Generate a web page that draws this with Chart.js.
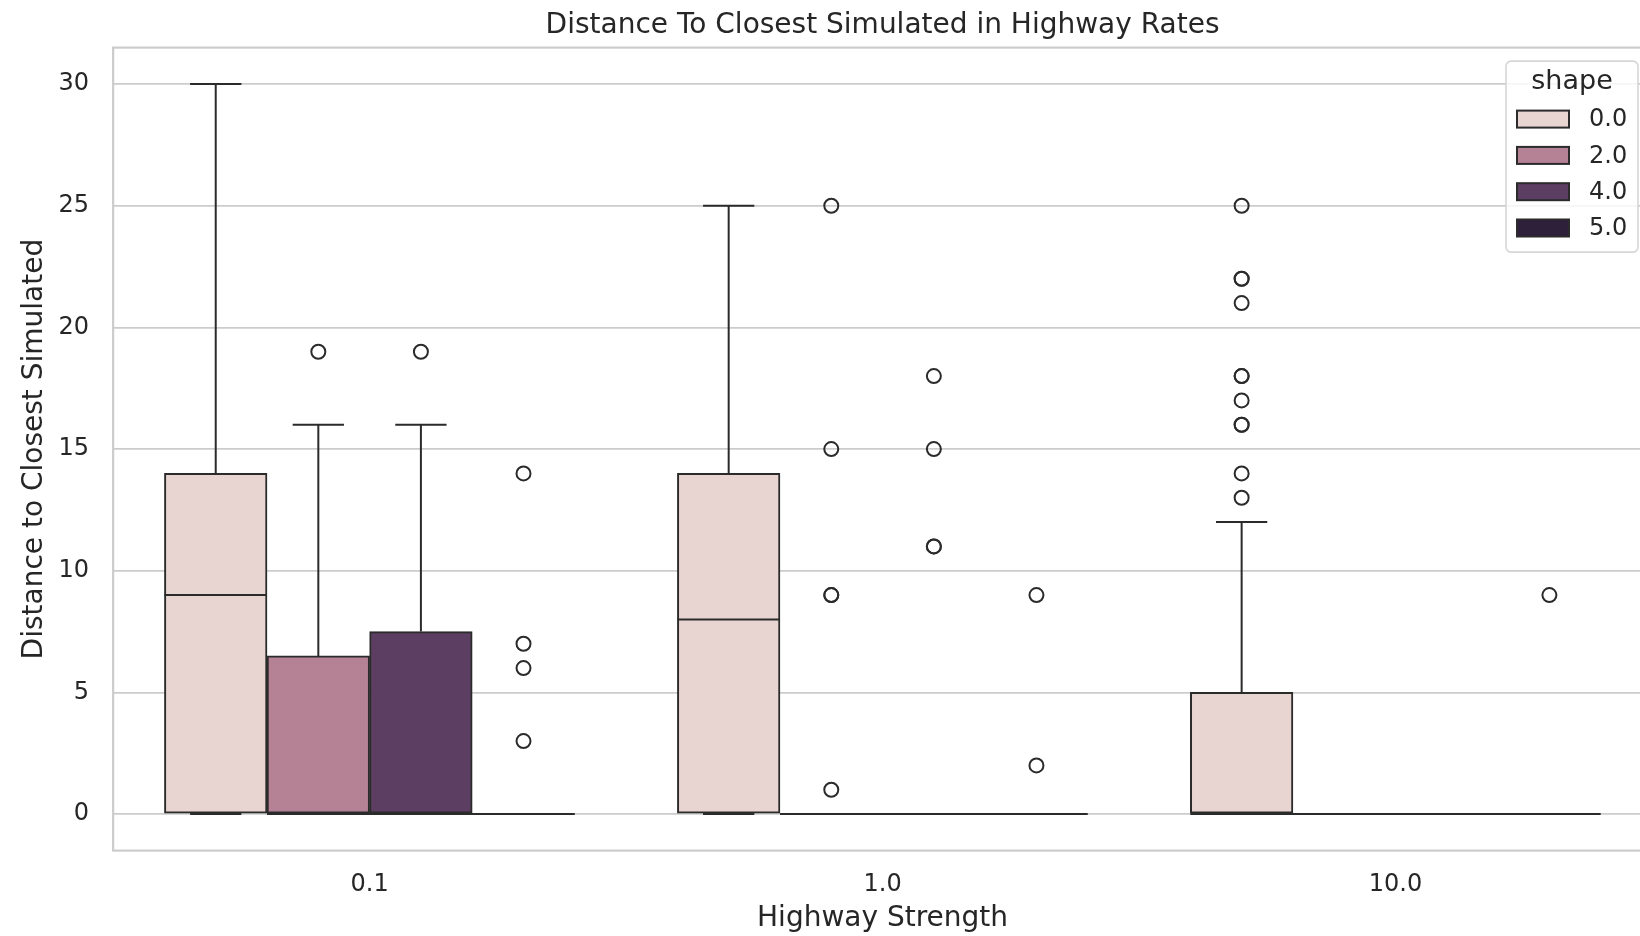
<!DOCTYPE html>
<html>
<head>
<meta charset="utf-8">
<script src="https://cdn.jsdelivr.net/npm/chart.js@4.4.1/dist/chart.umd.min.js"></script>
<style>
  html, body { margin: 0; padding: 0; background: #fff; overflow: hidden; }
  #wrap { width: 1640px; height: 936px; overflow: hidden; }
  canvas { display: block; }
</style>
</head>
<body>
<div id="wrap"><canvas id="chart" width="1664" height="936"></canvas></div>
<script>
// ================= DATA =================
const categories = ['0.1', '1.0', '10.0'];
const shapes = ['0.0', '2.0', '4.0', '5.0'];
const shapeColors = ['#e8d4d0', '#b48195', '#5d3e63', '#2e1f3a'];
const yTicks = [0, 5, 10, 15, 20, 25, 30];

// box stats: one row per shape, one column per highway strength
const q1 = [
    [0, 0, 0],
    [0, 0, 0],
    [0, 0, 0],
    [0, 0, 0]
];
const q3 = [
    [14, 14, 5],
    [6.5, 0, 0],
    [7.5, 0, 0],
    [0, 0, 0]
];
const medians = [
    [9, 8, 0],
    [0, 0, 0],
    [0, 0, 0],
    [0, 0, 0]
];
const whiskerLow = [
    [0, 0, 0],
    [0, 0, 0],
    [0, 0, 0],
    [0, 0, 0]
];
const whiskerHigh = [
    [30, 25, 12],
    [16, 0, 0],
    [16, 0, 0],
    [0, 0, 0]
];
const fliers = [
    [[], [], [25, 22, 22, 21, 18, 18, 17, 16, 16, 14, 13]],
    [[19], [25, 15, 9, 9, 1], []],
    [[19], [18, 15, 11, 11], []],
    [[14, 7, 6, 3], [9, 2], [9]]
];

// ================= STYLE =================
const textColor = '#262626';
const lineColor = '#2b2b2b';
const gridColor = '#cccccc';
const fontFamily = 'DejaVu Sans';
Chart.defaults.font.family = fontFamily;
Chart.defaults.color = textColor;

const groupWidth = 0.8;
const boxWidth = groupWidth / shapes.length;
const hueOffset = h => -groupWidth / 2 + boxWidth * (h + 0.5);

// ================= DATASETS =================
const boxDatasets = shapes.map((s, h) => ({
    type: 'bar',
    label: s,
    data: categories.map((c, i) => ({ x: i + hueOffset(h), y: [q1[h][i], q3[h][i]] })),
    backgroundColor: shapeColors[h],
    borderColor: lineColor,
    borderWidth: 2,
    borderSkipped: false,
    grouped: false,
    barPercentage: 1,
    categoryPercentage: 1,
    order: 3
}));

// whiskers, caps and medians as one line dataset broken by gaps
const linePoints = [];
function addSegment(x0, y0, x1, y1) {
    linePoints.push({ x: x0, y: y0 }, { x: x1, y: y1 }, { x: x1, y: null });
}
shapes.forEach((s, h) => {
    categories.forEach((c, i) => {
        const x = i + hueOffset(h);
        const half = boxWidth / 2;
        const capHalf = boxWidth / 4;
        if (whiskerHigh[h][i] > q3[h][i]) addSegment(x, q3[h][i], x, whiskerHigh[h][i]);
        if (whiskerLow[h][i] < q1[h][i]) addSegment(x, q1[h][i], x, whiskerLow[h][i]);
        addSegment(x - capHalf, whiskerHigh[h][i], x + capHalf, whiskerHigh[h][i]);
        addSegment(x - capHalf, whiskerLow[h][i], x + capHalf, whiskerLow[h][i]);
        addSegment(x - half, medians[h][i], x + half, medians[h][i]);
    });
});

const flierPoints = [];
shapes.forEach((s, h) => {
    categories.forEach((c, i) => {
        fliers[h][i].forEach(v => flierPoints.push({ x: i + hueOffset(h), y: v }));
    });
});

// ================= PLUGINS =================
const framePlugin = {
    id: 'frame',
    beforeDatasetsDraw(chart) {
        const { ctx, chartArea: a } = chart;
        ctx.save();
        ctx.strokeStyle = gridColor;
        ctx.lineWidth = 2.2;
        ctx.strokeRect(a.left, a.top, a.right - a.left, a.bottom - a.top);
        ctx.restore();
    }
};

const legendPlugin = {
    id: 'shapeLegend',
    afterDraw(chart) {
        const { ctx, chartArea } = chart;
        const w = 132, h = 191;
        const left = chartArea.right - 14 - w;
        const top = chartArea.top + 13.5;
        ctx.save();
        ctx.beginPath();
        ctx.roundRect(left, top, w, h, 5);
        ctx.fillStyle = 'rgba(255,255,255,0.8)';
        ctx.fill();
        ctx.strokeStyle = '#d6d6d6';
        ctx.lineWidth = 1.6;
        ctx.stroke();

        ctx.fillStyle = textColor;
        ctx.textBaseline = 'middle';
        ctx.textAlign = 'center';
        ctx.font = `27px "${fontFamily}"`;
        ctx.fillText('shape', left + w / 2, top + 21);

        ctx.textAlign = 'left';
        ctx.font = `24px "${fontFamily}"`;
        chart.data.datasets.filter(d => d.type === 'bar').forEach((d, k) => {
            const cy = top + 58 + k * 36.3;
            ctx.fillStyle = d.backgroundColor;
            ctx.fillRect(left + 11, cy - 8.5, 52, 17);
            ctx.strokeStyle = lineColor;
            ctx.lineWidth = 2;
            ctx.strokeRect(left + 11, cy - 8.5, 52, 17);
            ctx.fillStyle = textColor;
            ctx.fillText(d.label, left + 83, cy + 1);
        });
        ctx.restore();
    }
};

// ================= CHART =================
new Chart(document.getElementById('chart'), {
    type: 'bar',
    data: {
        datasets: [
            {
                type: 'line',
                label: 'lines',
                data: linePoints,
                borderColor: lineColor,
                borderWidth: 2,
                pointRadius: 0,
                spanGaps: false,
                fill: false,
                order: 1
            },
            {
                type: 'scatter',
                label: 'fliers',
                data: flierPoints,
                pointStyle: 'circle',
                pointRadius: 7,
                pointBorderWidth: 2,
                pointBorderColor: lineColor,
                pointBackgroundColor: 'rgba(0,0,0,0)',
                order: 0
            },
            ...boxDatasets
        ]
    },
    options: {
        responsive: false,
        animation: false,
        layout: { padding: { left: 0, right: 12, top: 0, bottom: 0 } },
        plugins: {
            legend: { display: false },
            tooltip: { enabled: false },
            title: {
                display: true,
                text: 'Distance To Closest Simulated in Highway Rates',
                fullSize: false,
                color: textColor,
                font: { size: 28, weight: 'normal' },
                padding: { top: 9, bottom: 5 }
            }
        },
        scales: {
            x: {
                type: 'linear',
                offset: false,
                min: -0.5,
                max: 2.5,
                grid: { display: false, drawTicks: false, offset: false },
                border: { display: false },
                afterBuildTicks: scale => {
                    scale.ticks = categories.map((c, i) => ({ value: i }));
                },
                ticks: {
                    callback: v => categories[v],
                    font: { size: 24 },
                    color: textColor,
                    padding: 19.5,
                    maxRotation: 0,
                    autoSkip: false
                },
                title: {
                    display: true,
                    text: 'Highway Strength',
                    color: textColor,
                    font: { size: 28 },
                    padding: { top: -16, bottom: 0 }
                }
            },
            y: {
                type: 'linear',
                min: -1.5,
                max: 31.5,
                afterBuildTicks: scale => {
                    scale.ticks = yTicks.map(v => ({ value: v }));
                },
                grid: { color: gridColor, lineWidth: 1.8, drawTicks: false },
                border: { display: false },
                ticks: {
                    font: { size: 24 },
                    color: textColor,
                    padding: 24
                },
                title: {
                    display: true,
                    text: 'Distance to Closest Simulated',
                    color: textColor,
                    font: { size: 28 },
                    padding: { top: 17.5, bottom: -16.5 }
                }
            }
        }
    },
    plugins: [framePlugin, legendPlugin]
});
</script>
</body>
</html>
